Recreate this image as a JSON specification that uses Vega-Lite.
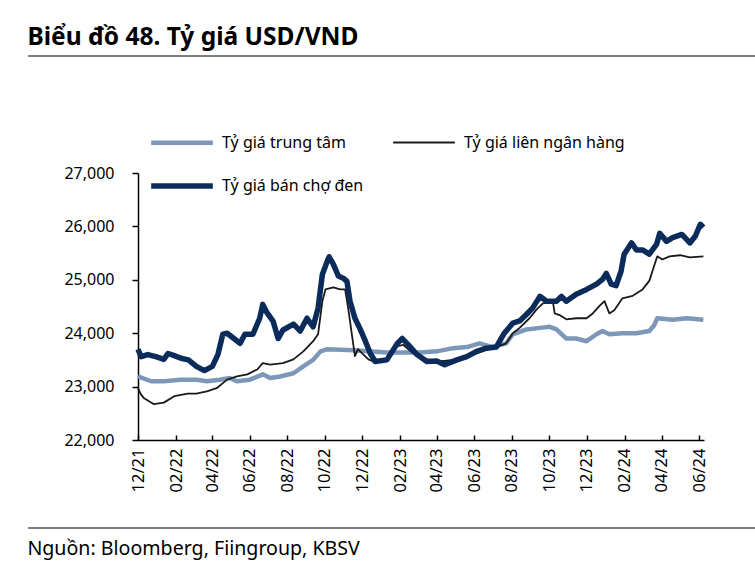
{
  "$schema": "https://vega.github.io/schema/vega-lite/v6.json",
  "padding": {"left": 27, "top": 24, "right": 0, "bottom": 12},
  "columns": 1,
  "align": "none",
  "spacing": 35,
  "config": {
    "font": "Noto Sans",
    "view": {"stroke": null},
    "axis": {"labelColor": "#000", "domainColor": "#000", "tickColor": "#000", "grid": false}
  },
  "concat": [
    {
      "width": 728,
      "height": 74,
      "title": {"text": "Biểu đồ 48. Tỷ giá USD/VND", "anchor": "start", "fontSize": 24.5, "fontWeight": "bold", "color": "#000", "offset": 5},
      "data": {"values": [{"edge": 1}]},
      "mark": {"type": "rule", "color": "#000", "strokeWidth": 1.2},
      "encoding": {"y": {"field": "edge", "type": "quantitative", "axis": null, "scale": {"domain": [0, 1]}}}
    },
    {
      "width": 728,
      "height": 267,
      "data": {
        "format": {"parse": {"date": "date:'%Y-%m-%d'"}},
        "values": [
          {"date": "2021-12-01", "series": "Tỷ giá trung  tâm", "rate": 23190},
          {"date": "2021-12-22", "series": "Tỷ giá trung  tâm", "rate": 23100},
          {"date": "2022-01-12", "series": "Tỷ giá trung  tâm", "rate": 23100},
          {"date": "2022-02-09", "series": "Tỷ giá trung  tâm", "rate": 23130},
          {"date": "2022-03-06", "series": "Tỷ giá trung  tâm", "rate": 23130},
          {"date": "2022-03-23", "series": "Tỷ giá trung  tâm", "rate": 23100},
          {"date": "2022-04-13", "series": "Tỷ giá trung  tâm", "rate": 23130},
          {"date": "2022-04-29", "series": "Tỷ giá trung  tâm", "rate": 23160},
          {"date": "2022-05-11", "series": "Tỷ giá trung  tâm", "rate": 23100},
          {"date": "2022-06-01", "series": "Tỷ giá trung  tâm", "rate": 23130},
          {"date": "2022-06-22", "series": "Tỷ giá trung  tâm", "rate": 23230},
          {"date": "2022-07-04", "series": "Tỷ giá trung  tâm", "rate": 23160},
          {"date": "2022-07-20", "series": "Tỷ giá trung  tâm", "rate": 23190},
          {"date": "2022-08-11", "series": "Tỷ giá trung  tâm", "rate": 23250},
          {"date": "2022-08-27", "series": "Tỷ giá trung  tâm", "rate": 23380},
          {"date": "2022-09-12", "series": "Tỷ giá trung  tâm", "rate": 23500},
          {"date": "2022-09-24", "series": "Tỷ giá trung  tâm", "rate": 23660},
          {"date": "2022-10-05", "series": "Tỷ giá trung  tâm", "rate": 23700},
          {"date": "2022-11-16", "series": "Tỷ giá trung  tâm", "rate": 23680},
          {"date": "2023-01-10", "series": "Tỷ giá trung  tâm", "rate": 23640},
          {"date": "2023-03-05", "series": "Tỷ giá trung  tâm", "rate": 23640},
          {"date": "2023-04-01", "series": "Tỷ giá trung  tâm", "rate": 23660},
          {"date": "2023-04-28", "series": "Tỷ giá trung  tâm", "rate": 23720},
          {"date": "2023-05-20", "series": "Tỷ giá trung  tâm", "rate": 23740},
          {"date": "2023-06-10", "series": "Tỷ giá trung  tâm", "rate": 23810},
          {"date": "2023-07-01", "series": "Tỷ giá trung  tâm", "rate": 23740},
          {"date": "2023-07-23", "series": "Tỷ giá trung  tâm", "rate": 23810},
          {"date": "2023-08-03", "series": "Tỷ giá trung  tâm", "rate": 23980},
          {"date": "2023-08-25", "series": "Tỷ giá trung  tâm", "rate": 24070},
          {"date": "2023-09-16", "series": "Tỷ giá trung  tâm", "rate": 24100},
          {"date": "2023-10-02", "series": "Tỷ giá trung  tâm", "rate": 24120},
          {"date": "2023-10-13", "series": "Tỷ giá trung  tâm", "rate": 24070},
          {"date": "2023-10-29", "series": "Tỷ giá trung  tâm", "rate": 23900},
          {"date": "2023-11-14", "series": "Tỷ giá trung  tâm", "rate": 23900},
          {"date": "2023-12-01", "series": "Tỷ giá trung  tâm", "rate": 23850},
          {"date": "2023-12-17", "series": "Tỷ giá trung  tâm", "rate": 23980},
          {"date": "2023-12-27", "series": "Tỷ giá trung  tâm", "rate": 24040},
          {"date": "2024-01-07", "series": "Tỷ giá trung  tâm", "rate": 23980},
          {"date": "2024-01-28", "series": "Tỷ giá trung  tâm", "rate": 24000},
          {"date": "2024-02-20", "series": "Tỷ giá trung  tâm", "rate": 24000},
          {"date": "2024-03-12", "series": "Tỷ giá trung  tâm", "rate": 24040},
          {"date": "2024-03-20", "series": "Tỷ giá trung  tâm", "rate": 24150},
          {"date": "2024-03-25", "series": "Tỷ giá trung  tâm", "rate": 24280},
          {"date": "2024-04-19", "series": "Tỷ giá trung  tâm", "rate": 24250},
          {"date": "2024-05-12", "series": "Tỷ giá trung  tâm", "rate": 24280},
          {"date": "2024-06-08", "series": "Tỷ giá trung  tâm", "rate": 24250},

          {"date": "2021-12-01", "series": "Tỷ giá liên ngân hàng", "rate": 22970},
          {"date": "2021-12-06", "series": "Tỷ giá liên ngân hàng", "rate": 22850},
          {"date": "2021-12-11", "series": "Tỷ giá liên ngân hàng", "rate": 22780},
          {"date": "2021-12-27", "series": "Tỷ giá liên ngân hàng", "rate": 22670},
          {"date": "2022-01-12", "series": "Tỷ giá liên ngân hàng", "rate": 22700},
          {"date": "2022-01-29", "series": "Tỷ giá liên ngân hàng", "rate": 22820},
          {"date": "2022-02-20", "series": "Tỷ giá liên ngân hàng", "rate": 22870},
          {"date": "2022-03-06", "series": "Tỷ giá liên ngân hàng", "rate": 22870},
          {"date": "2022-03-23", "series": "Tỷ giá liên ngân hàng", "rate": 22910},
          {"date": "2022-04-08", "series": "Tỷ giá liên ngân hàng", "rate": 22970},
          {"date": "2022-04-25", "series": "Tỷ giá liên ngân hàng", "rate": 23130},
          {"date": "2022-05-11", "series": "Tỷ giá liên ngân hàng", "rate": 23190},
          {"date": "2022-05-28", "series": "Tỷ giá liên ngân hàng", "rate": 23230},
          {"date": "2022-06-13", "series": "Tỷ giá liên ngân hàng", "rate": 23320},
          {"date": "2022-06-22", "series": "Tỷ giá liên ngân hàng", "rate": 23440},
          {"date": "2022-07-04", "series": "Tỷ giá liên ngân hàng", "rate": 23410},
          {"date": "2022-07-25", "series": "Tỷ giá liên ngân hàng", "rate": 23440},
          {"date": "2022-08-11", "series": "Tỷ giá liên ngân hàng", "rate": 23510},
          {"date": "2022-08-27", "series": "Tỷ giá liên ngân hàng", "rate": 23660},
          {"date": "2022-09-12", "series": "Tỷ giá liên ngân hàng", "rate": 23850},
          {"date": "2022-09-20", "series": "Tỷ giá liên ngân hàng", "rate": 23980},
          {"date": "2022-09-27", "series": "Tỷ giá liên ngân hàng", "rate": 24600},
          {"date": "2022-10-02", "series": "Tỷ giá liên ngân hàng", "rate": 24820},
          {"date": "2022-10-15", "series": "Tỷ giá liên ngân hàng", "rate": 24860},
          {"date": "2022-10-26", "series": "Tỷ giá liên ngân hàng", "rate": 24820},
          {"date": "2022-11-03", "series": "Tỷ giá liên ngân hàng", "rate": 24820},
          {"date": "2022-11-08", "series": "Tỷ giá liên ngân hàng", "rate": 24470},
          {"date": "2022-11-14", "series": "Tỷ giá liên ngân hàng", "rate": 23980},
          {"date": "2022-11-19", "series": "Tỷ giá liên ngân hàng", "rate": 23570},
          {"date": "2022-11-24", "series": "Tỷ giá liên ngân hàng", "rate": 23700},
          {"date": "2022-12-02", "series": "Tỷ giá liên ngân hàng", "rate": 23610},
          {"date": "2022-12-11", "series": "Tỷ giá liên ngân hàng", "rate": 23510},
          {"date": "2022-12-19", "series": "Tỷ giá liên ngân hàng", "rate": 23470},
          {"date": "2023-01-10", "series": "Tỷ giá liên ngân hàng", "rate": 23500},
          {"date": "2023-01-27", "series": "Tỷ giá liên ngân hàng", "rate": 23760},
          {"date": "2023-02-06", "series": "Tỷ giá liên ngân hàng", "rate": 23780},
          {"date": "2023-02-22", "series": "Tỷ giá liên ngân hàng", "rate": 23620},
          {"date": "2023-03-16", "series": "Tỷ giá liên ngân hàng", "rate": 23510},
          {"date": "2023-04-06", "series": "Tỷ giá liên ngân hàng", "rate": 23470},
          {"date": "2023-04-28", "series": "Tỷ giá liên ngân hàng", "rate": 23500},
          {"date": "2023-05-20", "series": "Tỷ giá liên ngân hàng", "rate": 23560},
          {"date": "2023-06-05", "series": "Tỷ giá liên ngân hàng", "rate": 23620},
          {"date": "2023-06-21", "series": "Tỷ giá liên ngân hàng", "rate": 23690},
          {"date": "2023-07-07", "series": "Tỷ giá liên ngân hàng", "rate": 23740},
          {"date": "2023-07-23", "series": "Tỷ giá liên ngân hàng", "rate": 23810},
          {"date": "2023-08-03", "series": "Tỷ giá liên ngân hàng", "rate": 24000},
          {"date": "2023-08-14", "series": "Tỷ giá liên ngân hàng", "rate": 24100},
          {"date": "2023-08-30", "series": "Tỷ giá liên ngân hàng", "rate": 24280},
          {"date": "2023-09-11", "series": "Tỷ giá liên ngân hàng", "rate": 24450},
          {"date": "2023-09-21", "series": "Tỷ giá liên ngân hàng", "rate": 24560},
          {"date": "2023-10-07", "series": "Tỷ giá liên ngân hàng", "rate": 24600},
          {"date": "2023-10-10", "series": "Tỷ giá liên ngân hàng", "rate": 24370},
          {"date": "2023-10-18", "series": "Tỷ giá liên ngân hàng", "rate": 24340},
          {"date": "2023-10-29", "series": "Tỷ giá liên ngân hàng", "rate": 24260},
          {"date": "2023-11-14", "series": "Tỷ giá liên ngân hàng", "rate": 24280},
          {"date": "2023-12-01", "series": "Tỷ giá liên ngân hàng", "rate": 24280},
          {"date": "2023-12-11", "series": "Tỷ giá liên ngân hàng", "rate": 24370},
          {"date": "2023-12-22", "series": "Tỷ giá liên ngân hàng", "rate": 24510},
          {"date": "2023-12-30", "series": "Tỷ giá liên ngân hàng", "rate": 24600},
          {"date": "2024-01-07", "series": "Tỷ giá liên ngân hàng", "rate": 24370},
          {"date": "2024-01-15", "series": "Tỷ giá liên ngân hàng", "rate": 24430},
          {"date": "2024-01-28", "series": "Tỷ giá liên ngân hàng", "rate": 24650},
          {"date": "2024-02-14", "series": "Tỷ giá liên ngân hàng", "rate": 24700},
          {"date": "2024-03-01", "series": "Tỷ giá liên ngân hàng", "rate": 24820},
          {"date": "2024-03-12", "series": "Tỷ giá liên ngân hàng", "rate": 24980},
          {"date": "2024-03-17", "series": "Tỷ giá liên ngân hàng", "rate": 25160},
          {"date": "2024-03-25", "series": "Tỷ giá liên ngân hàng", "rate": 25440},
          {"date": "2024-04-02", "series": "Tỷ giá liên ngân hàng", "rate": 25380},
          {"date": "2024-04-14", "series": "Tỷ giá liên ngân hàng", "rate": 25440},
          {"date": "2024-05-01", "series": "Tỷ giá liên ngân hàng", "rate": 25460},
          {"date": "2024-05-17", "series": "Tỷ giá liên ngân hàng", "rate": 25420},
          {"date": "2024-06-08", "series": "Tỷ giá liên ngân hàng", "rate": 25440},

          {"date": "2021-12-01", "series": "Tỷ giá bán chợ đen", "rate": 23700},
          {"date": "2021-12-06", "series": "Tỷ giá bán chợ đen", "rate": 23560},
          {"date": "2021-12-17", "series": "Tỷ giá bán chợ đen", "rate": 23600},
          {"date": "2021-12-30", "series": "Tỷ giá bán chợ đen", "rate": 23560},
          {"date": "2022-01-12", "series": "Tỷ giá bán chợ đen", "rate": 23510},
          {"date": "2022-01-19", "series": "Tỷ giá bán chợ đen", "rate": 23620},
          {"date": "2022-01-29", "series": "Tỷ giá bán chợ đen", "rate": 23580},
          {"date": "2022-02-09", "series": "Tỷ giá bán chợ đen", "rate": 23530},
          {"date": "2022-02-21", "series": "Tỷ giá bán chợ đen", "rate": 23500},
          {"date": "2022-03-06", "series": "Tỷ giá bán chợ đen", "rate": 23380},
          {"date": "2022-03-19", "series": "Tỷ giá bán chợ đen", "rate": 23300},
          {"date": "2022-04-01", "series": "Tỷ giá bán chợ đen", "rate": 23380},
          {"date": "2022-04-10", "series": "Tỷ giá bán chợ đen", "rate": 23600},
          {"date": "2022-04-18", "series": "Tỷ giá bán chợ đen", "rate": 23980},
          {"date": "2022-04-25", "series": "Tỷ giá bán chợ đen", "rate": 24000},
          {"date": "2022-05-04", "series": "Tỷ giá bán chợ đen", "rate": 23920},
          {"date": "2022-05-16", "series": "Tỷ giá bán chợ đen", "rate": 23810},
          {"date": "2022-05-24", "series": "Tỷ giá bán chợ đen", "rate": 23980},
          {"date": "2022-06-06", "series": "Tỷ giá bán chợ đen", "rate": 23980},
          {"date": "2022-06-17", "series": "Tỷ giá bán chợ đen", "rate": 24280},
          {"date": "2022-06-22", "series": "Tỷ giá bán chợ đen", "rate": 24540},
          {"date": "2022-06-28", "series": "Tỷ giá bán chợ đen", "rate": 24400},
          {"date": "2022-07-09", "series": "Tỷ giá bán chợ đen", "rate": 24220},
          {"date": "2022-07-17", "series": "Tỷ giá bán chợ đen", "rate": 23900},
          {"date": "2022-07-25", "series": "Tỷ giá bán chợ đen", "rate": 24060},
          {"date": "2022-08-11", "series": "Tỷ giá bán chợ đen", "rate": 24170},
          {"date": "2022-08-22", "series": "Tỷ giá bán chợ đen", "rate": 24040},
          {"date": "2022-09-02", "series": "Tỷ giá bán chợ đen", "rate": 24280},
          {"date": "2022-09-12", "series": "Tỷ giá bán chợ đen", "rate": 24120},
          {"date": "2022-09-20", "series": "Tỷ giá bán chợ đen", "rate": 24470},
          {"date": "2022-09-27", "series": "Tỷ giá bán chợ đen", "rate": 25100},
          {"date": "2022-10-05", "series": "Tỷ giá bán chợ đen", "rate": 25350},
          {"date": "2022-10-08", "series": "Tỷ giá bán chợ đen", "rate": 25430},
          {"date": "2022-10-15", "series": "Tỷ giá bán chợ đen", "rate": 25290},
          {"date": "2022-10-23", "series": "Tỷ giá bán chợ đen", "rate": 25070},
          {"date": "2022-10-31", "series": "Tỷ giá bán chợ đen", "rate": 25030},
          {"date": "2022-11-06", "series": "Tỷ giá bán chợ đen", "rate": 24970},
          {"date": "2022-11-11", "series": "Tỷ giá bán chợ đen", "rate": 24600},
          {"date": "2022-11-19", "series": "Tỷ giá bán chợ đen", "rate": 24280},
          {"date": "2022-11-27", "series": "Tỷ giá bán chợ đen", "rate": 24090},
          {"date": "2022-12-06", "series": "Tỷ giá bán chợ đen", "rate": 23850},
          {"date": "2022-12-14", "series": "Tỷ giá bán chợ đen", "rate": 23620},
          {"date": "2022-12-22", "series": "Tỷ giá bán chợ đen", "rate": 23470},
          {"date": "2023-01-10", "series": "Tỷ giá bán chợ đen", "rate": 23500},
          {"date": "2023-01-27", "series": "Tỷ giá bán chợ đen", "rate": 23810},
          {"date": "2023-02-04", "series": "Tỷ giá bán chợ đen", "rate": 23900},
          {"date": "2023-02-14", "series": "Tỷ giá bán chợ đen", "rate": 23780},
          {"date": "2023-02-28", "series": "Tỷ giá bán chợ đen", "rate": 23600},
          {"date": "2023-03-16", "series": "Tỷ giá bán chợ đen", "rate": 23470},
          {"date": "2023-04-01", "series": "Tỷ giá bán chợ đen", "rate": 23480},
          {"date": "2023-04-14", "series": "Tỷ giá bán chợ đen", "rate": 23410},
          {"date": "2023-05-04", "series": "Tỷ giá bán chợ đen", "rate": 23500},
          {"date": "2023-05-20", "series": "Tỷ giá bán chợ đen", "rate": 23560},
          {"date": "2023-06-05", "series": "Tỷ giá bán chợ đen", "rate": 23660},
          {"date": "2023-06-21", "series": "Tỷ giá bán chợ đen", "rate": 23720},
          {"date": "2023-07-07", "series": "Tỷ giá bán chợ đen", "rate": 23740},
          {"date": "2023-07-20", "series": "Tỷ giá bán chợ đen", "rate": 24000},
          {"date": "2023-08-03", "series": "Tỷ giá bán chợ đen", "rate": 24190},
          {"date": "2023-08-14", "series": "Tỷ giá bán chợ đen", "rate": 24230},
          {"date": "2023-08-25", "series": "Tỷ giá bán chợ đen", "rate": 24350},
          {"date": "2023-09-04", "series": "Tỷ giá bán chợ đen", "rate": 24470},
          {"date": "2023-09-16", "series": "Tỷ giá bán chợ đen", "rate": 24690},
          {"date": "2023-09-27", "series": "Tỷ giá bán chợ đen", "rate": 24600},
          {"date": "2023-10-13", "series": "Tỷ giá bán chợ đen", "rate": 24600},
          {"date": "2023-10-21", "series": "Tỷ giá bán chợ đen", "rate": 24690},
          {"date": "2023-10-29", "series": "Tỷ giá bán chợ đen", "rate": 24600},
          {"date": "2023-11-14", "series": "Tỷ giá bán chợ đen", "rate": 24730},
          {"date": "2023-12-01", "series": "Tỷ giá bán chợ đen", "rate": 24820},
          {"date": "2023-12-17", "series": "Tỷ giá bán chợ đen", "rate": 24920},
          {"date": "2023-12-27", "series": "Tỷ giá bán chợ đen", "rate": 25010},
          {"date": "2024-01-02", "series": "Tỷ giá bán chợ đen", "rate": 25120},
          {"date": "2024-01-10", "series": "Tỷ giá bán chợ đen", "rate": 24920},
          {"date": "2024-01-18", "series": "Tỷ giá bán chợ đen", "rate": 24890},
          {"date": "2024-01-26", "series": "Tỷ giá bán chợ đen", "rate": 25160},
          {"date": "2024-01-31", "series": "Tỷ giá bán chợ đen", "rate": 25480},
          {"date": "2024-02-12", "series": "Tỷ giá bán chợ đen", "rate": 25690},
          {"date": "2024-02-20", "series": "Tỷ giá bán chợ đen", "rate": 25560},
          {"date": "2024-03-01", "series": "Tỷ giá bán chợ đen", "rate": 25560},
          {"date": "2024-03-12", "series": "Tỷ giá bán chợ đen", "rate": 25480},
          {"date": "2024-03-24", "series": "Tỷ giá bán chợ đen", "rate": 25670},
          {"date": "2024-03-29", "series": "Tỷ giá bán chợ đen", "rate": 25870},
          {"date": "2024-04-09", "series": "Tỷ giá bán chợ đen", "rate": 25720},
          {"date": "2024-04-19", "series": "Tỷ giá bán chợ đen", "rate": 25790},
          {"date": "2024-05-04", "series": "Tỷ giá bán chợ đen", "rate": 25850},
          {"date": "2024-05-17", "series": "Tỷ giá bán chợ đen", "rate": 25690},
          {"date": "2024-05-26", "series": "Tỷ giá bán chợ đen", "rate": 25820},
          {"date": "2024-06-03", "series": "Tỷ giá bán chợ đen", "rate": 26040},
          {"date": "2024-06-08", "series": "Tỷ giá bán chợ đen", "rate": 25980}
        ]
      },
      "mark": {"type": "line", "strokeJoin": "round"},
      "encoding": {
        "x": {
          "field": "date",
          "type": "temporal",
          "title": null,
          "scale": {"domain": [{"year": 2021, "month": 12, "date": 1}, {"year": 2024, "month": 6, "date": 9}], "range": [110, 676]},
          "axis": {
            "values": [
              {"year": 2021, "month": 12, "date": 1}, {"year": 2022, "month": 2, "date": 1},
              {"year": 2022, "month": 4, "date": 1}, {"year": 2022, "month": 6, "date": 1},
              {"year": 2022, "month": 8, "date": 1}, {"year": 2022, "month": 10, "date": 1},
              {"year": 2022, "month": 12, "date": 1}, {"year": 2023, "month": 2, "date": 1},
              {"year": 2023, "month": 4, "date": 1}, {"year": 2023, "month": 6, "date": 1},
              {"year": 2023, "month": 8, "date": 1}, {"year": 2023, "month": 10, "date": 1},
              {"year": 2023, "month": 12, "date": 1}, {"year": 2024, "month": 2, "date": 1},
              {"year": 2024, "month": 4, "date": 1}, {"year": 2024, "month": 6, "date": 1}
            ],
            "format": "%m/%y",
            "labelAngle": -90,
            "labelFontSize": 16.5,
            "labelPadding": 13,
            "tickSize": -5,
            "tickWidth": 1.5,
            "domainWidth": 1.5,
            "labelFlush": false,
            "labelOverlap": false
          }
        },
        "y": {
          "field": "rate",
          "type": "quantitative",
          "title": null,
          "scale": {"domain": [22000, 27000], "zero": false, "nice": false},
          "axis": {
            "offset": -110,
            "values": [22000, 23000, 24000, 25000, 26000, 27000],
            "format": ",.0f",
            "labelFontSize": 16,
            "labelPadding": 18,
            "tickSize": 6,
            "tickWidth": 1.5,
            "domainWidth": 1.5
          }
        },
        "color": {
          "field": "series",
          "type": "nominal",
          "title": null,
          "scale": {
            "domain": ["Tỷ giá trung  tâm", "Tỷ giá liên ngân hàng", "Tỷ giá bán chợ đen"],
            "range": ["#7d97b9", "#1a1a1a", "#0b2c5a"]
          },
          "legend": {
            "orient": "none", "legendX": 120, "legendY": 53, "columns": 2, "direction": "horizontal",
            "symbolType": "stroke", "symbolSize": 3800, "labelFontSize": 16, "labelColor": "#000",
            "labelOffset": 6, "rowPadding": -1, "columnPadding": 25, "padding": 0, "labelLimit": 300
          }
        },
        "strokeWidth": {
          "field": "series",
          "type": "nominal",
          "title": null,
          "scale": {
            "type": "ordinal",
            "domain": ["Tỷ giá trung  tâm", "Tỷ giá liên ngân hàng", "Tỷ giá bán chợ đen"],
            "range": [4.5, 1.8, 5.5]
          },
          "legend": {
            "orient": "none", "legendX": 120, "legendY": 53, "columns": 2, "direction": "horizontal",
            "symbolType": "stroke", "symbolSize": 3800, "labelFontSize": 16, "labelColor": "#000",
            "labelOffset": 6, "rowPadding": -1, "columnPadding": 25, "padding": 0, "labelLimit": 300
          }
        }
      }
    },
    {
      "width": 728,
      "height": 1,
      "title": {"text": "Nguồn:  Bloomberg, Fiingroup, KBSV", "orient": "bottom", "anchor": "start", "fontSize": 19.6, "fontWeight": "normal", "color": "#000", "offset": 11},
      "data": {"values": [{"edge": 1}]},
      "mark": {"type": "rule", "color": "#000", "strokeWidth": 1.2},
      "encoding": {"y": {"field": "edge", "type": "quantitative", "axis": null, "scale": {"domain": [0, 1]}}}
    }
  ]
}
